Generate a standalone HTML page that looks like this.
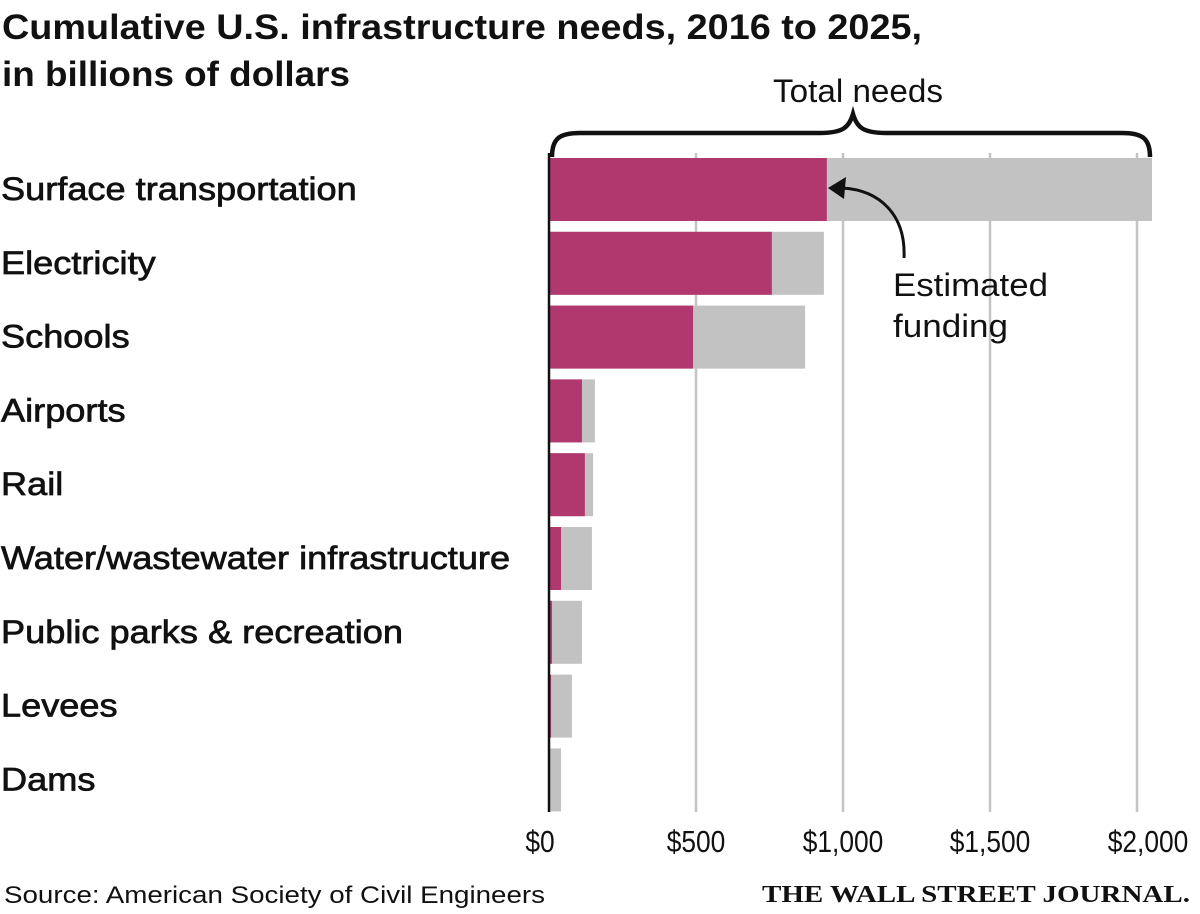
<!DOCTYPE html>
<html><head><meta charset="utf-8"><style>
html,body{margin:0;padding:0;background:#fff}
svg{display:block}
text{font-family:"Liberation Sans Narrow","Liberation Sans",sans-serif;fill:#111}
</style></head><body>
<svg id="chart" width="1200" height="914" viewBox="0 0 1200 914">
<text x="2" y="39" font-size="35" font-weight="bold" textLength="920" lengthAdjust="spacingAndGlyphs">Cumulative U.S. infrastructure needs, 2016 to 2025,</text>
<text x="2" y="86" font-size="35" font-weight="bold" textLength="348" lengthAdjust="spacingAndGlyphs">in billions of dollars</text>
<g id="grid"></g>
<g id="bars"></g>
<g id="labels"></g>
<g id="ticks"></g>
<line x1="549" y1="153" x2="549" y2="812" stroke="#111" stroke-width="2.5"/>
<path d="M552,157 C552,138 560,133 580,133 L820,133 C842,133 849,128 853,114 C857,128 864,133 886,133 L1122,133 C1142,133 1150,138 1150,157" fill="none" stroke="#111" stroke-width="4.5"/>
<text x="773" y="102" font-size="32" textLength="170" lengthAdjust="spacingAndGlyphs">Total needs</text>
<path d="M904,258 C906,215 880,190 842,188" fill="none" stroke="#111" stroke-width="3"/>
<polygon points="828,188 846,177 844,199" fill="#111"/>
<text x="893" y="296" font-size="32" textLength="155" lengthAdjust="spacingAndGlyphs">Estimated</text>
<text x="893" y="337" font-size="32" textLength="115" lengthAdjust="spacingAndGlyphs">funding</text>
<text x="4" y="903" font-size="24" textLength="541" lengthAdjust="spacingAndGlyphs">Source: American Society of Civil Engineers</text>
<text x="762" y="902" font-size="24" font-weight="bold" textLength="428" lengthAdjust="spacingAndGlyphs" style="font-family:'Liberation Serif',serif">THE WALL STREET JOURNAL.</text>
</svg>
<script>
const categories=["Surface transportation","Electricity","Schools","Airports","Rail","Water/wastewater infrastructure","Public parks & recreation","Levees","Dams"];
const funded=[945,758,490,112,122,41,10,7,3];
const totalNeeds=[2051,935,871,156,150,146,112,78,41];
const tickValues=[0,500,1000,1500,2000];
const tickLabels=["$0","$500","$1,000","$1,500","$2,000"];
const NS="http://www.w3.org/2000/svg";
const x0=549,pxPer=147/500,rowTop=158,rowPitch=73.8,barH=63;
function xs(v){return x0+v*pxPer;}
function ys(i){return rowTop+i*rowPitch;}
function mk(tag,attrs,parent){const e=document.createElementNS(NS,tag);for(const k in attrs)e.setAttribute(k,attrs[k]);document.getElementById(parent).appendChild(e);return e;}
tickValues.forEach((v,i)=>{
  if(v>0){const g=mk('line',{x1:xs(v),x2:xs(v),y1:153,y2:812,stroke:'#c4c4c4','stroke-width':2.5},'grid');
  
  }
  const t=mk('text',{x:xs(v)+(i==0?-9:(i==4?11:0)),y:852,'font-size':31,'text-anchor':'middle'},'ticks');
  t.textContent=tickLabels[i];
  
  
  const w=t.getComputedTextLength();
  t.setAttribute('textLength',w*0.85);
  t.setAttribute('lengthAdjust','spacingAndGlyphs');
});
categories.forEach((c,i)=>{
  const y=ys(i);
  const b1=mk('rect',{x:x0,y:y,width:xs(totalNeeds[i])-x0,height:barH,fill:'#c2c2c2'},'bars');
  
  
  const b2=mk('rect',{x:x0,y:y,width:xs(funded[i])-x0,height:barH,fill:'#b1386f'},'bars');
  
  
  const t=mk('text',{x:1,y:y+42,'font-size':32,stroke:'#111','stroke-width':0.7},'labels');
  t.textContent=c;
  
  
  const w=t.getComputedTextLength();
  t.setAttribute('textLength',w*1.13);
  t.setAttribute('lengthAdjust','spacingAndGlyphs');
});
</script>
</body></html>
